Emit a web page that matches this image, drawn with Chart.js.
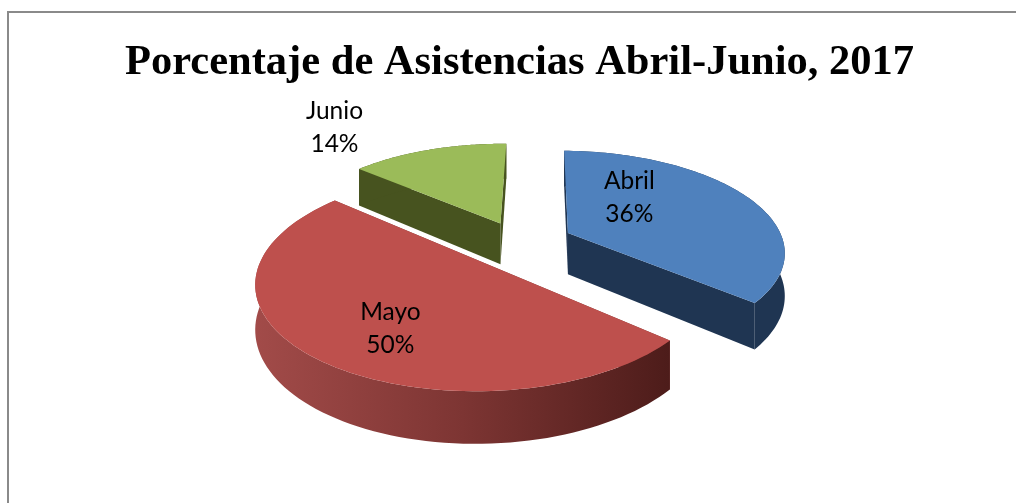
<!DOCTYPE html>
<html>
<head>
<meta charset="utf-8">
<style>
  html, body { margin: 0; background: #fff; overflow: hidden; }
  #frame { position: absolute; left: 7px; top: 11px; right: 0; bottom: 0;
           border-left: 2px solid #8a8a8a; border-top: 2px solid #8a8a8a; }
  canvas { position: absolute; left: 0; top: 0; }
</style>
<script src="https://cdn.jsdelivr.net/npm/chart.js@4"></script>
</head>
<body>
<div id="frame"></div>
<canvas id="myChart" width="1016" height="503"></canvas>
<script>
const titulo = "Porcentaje de Asistencias Abril-Junio, 2017";
const meses = ["Abril", "Mayo", "Junio"];
const porcentajes = [36, 50, 14];

const colorCara = ["#4f81bd", "#be504d", "#9bbb59"];
const colorLado = ["#1f3552", "#7d3533", "#47531f"];
const explosion = [54, 54, 48];
const ajusteEtiqueta = [[-57, -11], [14, 9], [-117, -46]]; // desplaza cada texto desde el centro del sector
const ordenDibujo = [2, 0, 1]; // de atras hacia adelante

// Vista 3D del pastel
const inclinacion = 0.46;
const perspectiva = 0.17;
const grosor = 42;

function proyectar(arc, x, y, z) {
  const radio = arc.outerRadius;
  const w = 1 - (perspectiva * y) / radio;
  return [arc.x + x / w, arc.y + (y * inclinacion + z) / w];
}

function puntoBorde(arc, angulo, off, z) {
  const medio = (arc.startAngle + arc.endAngle) / 2;
  const x = Math.cos(angulo) * arc.outerRadius + Math.cos(medio) * off;
  const y = Math.sin(angulo) * arc.outerRadius + Math.sin(medio) * off;
  return proyectar(arc, x, y, z);
}

function puntoApice(arc, off, z) {
  const medio = (arc.startAngle + arc.endAngle) / 2;
  return proyectar(arc, Math.cos(medio) * off, Math.sin(medio) * off, z);
}

function borde(arc, off, z) {
  const pts = [];
  const pasos = 90;
  for (let i = 0; i <= pasos; i++) {
    const a = arc.startAngle + ((arc.endAngle - arc.startAngle) * i) / pasos;
    pts.push(puntoBorde(arc, a, off, z));
  }
  return pts;
}

function rellenar(ctx, pts, color) {
  ctx.beginPath();
  pts.forEach((p, i) => (i ? ctx.lineTo(p[0], p[1]) : ctx.moveTo(p[0], p[1])));
  ctx.closePath();
  ctx.fillStyle = color;
  ctx.fill();
}

const pastel3d = {
  id: "pastel3d",
  beforeDatasetDraw(chart, args) {
    const ctx = chart.ctx;
    const arcs = args.meta.data;
    ordenDibujo.forEach((i) => {
      const arc = arcs[i];
      const off = arc.options.offset;
      const arriba = borde(arc, off, 0);
      const abajo = borde(arc, off, grosor);
      const apice = puntoApice(arc, off, 0);
      const apiceAbajo = puntoApice(arc, off, grosor);

      // paredes rectas
      rellenar(ctx, [apice, apiceAbajo, abajo[0], arriba[0]], colorLado[i]);
      rellenar(ctx, [apice, apiceAbajo, abajo[abajo.length - 1], arriba[arriba.length - 1]], colorLado[i]);

      // pared curva
      let relleno = colorLado[i];
      if (i === 1) {
        const xs = arriba.map((p) => p[0]);
        relleno = ctx.createLinearGradient(Math.min(...xs), 0, Math.max(...xs), 0);
        relleno.addColorStop(0, "#a24b49");
        relleno.addColorStop(0.5, "#7d3533");
        relleno.addColorStop(1, "#4d1c1a");
      }
      rellenar(ctx, arriba.concat(abajo.slice().reverse()), relleno);

      // cara superior
      rellenar(ctx, [apice].concat(arriba), colorCara[i]);
    });
    return false;
  },
  afterDatasetsDraw(chart) {
    const ctx = chart.ctx;
    const arcs = chart.getDatasetMeta(0).data;
    ctx.save();
    ctx.fillStyle = "#000";
    ctx.font = "24.5px Lato";
    ctx.textAlign = "center";
    ctx.textBaseline = "middle";
    arcs.forEach((arc, i) => {
      const medio = (arc.startAngle + arc.endAngle) / 2;
      const p = puntoBorde(arc, medio, arc.options.offset - arc.outerRadius * 0.35, 0);
      const x = p[0] + ajusteEtiqueta[i][0];
      const y = p[1] + ajusteEtiqueta[i][1];
      ctx.fillText(meses[i], x, y - 16.5);
      ctx.fillText(porcentajes[i] + "%", x, y + 16.5);
    });
    ctx.restore();
  },
};

const ctx = document.getElementById("myChart").getContext("2d");

new Chart(ctx, {
  type: "pie",
  data: {
    labels: meses,
    datasets: [
      {
        data: porcentajes,
        backgroundColor: colorCara,
        offset: explosion,
        borderWidth: 0,
      },
    ],
  },
  options: {
    responsive: false,
    animation: false,
    radius: 216,
    rotation: 1,
    layout: { padding: { left: 23, right: 0, top: 0, bottom: 112 } },
    plugins: {
      legend: { display: false },
      tooltip: { enabled: false },
      title: {
        display: true,
        text: titulo,
        color: "#000",
        font: { family: "Liberation Serif", size: 42.5, weight: "bold" },
        padding: { top: 38, bottom: 6 },
      },
    },
  },
  plugins: [pastel3d],
});
</script>
</body>
</html>
